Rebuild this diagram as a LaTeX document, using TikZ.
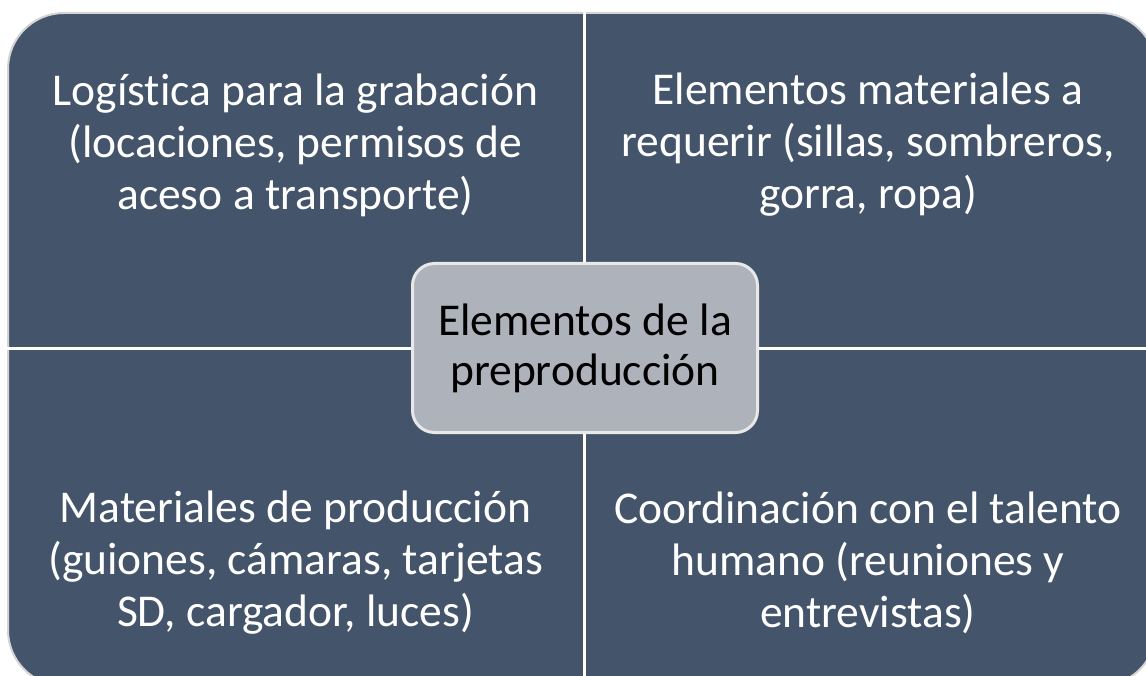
\documentclass[tikz,border=0pt]{standalone}
\usepackage{fontspec}
\setmainfont{Carlito}[Ligatures=NoCommon]
\definecolor{quad}{HTML}{44546A}
\definecolor{hub}{HTML}{AEB2BA}
\definecolor{rim}{HTML}{D4D4D4}
\definecolor{hubrim}{HTML}{E8E8E8}
\tikzset{
  quadtext/.style={text=white, align=center, inner sep=0pt, font=\fontsize{45.5}{52}\selectfont},
  hubbox/.style={draw=hubrim, line width=3pt, fill=hub, rounded corners=22pt, minimum width=345pt, minimum height=169pt, align=center, inner sep=0pt, font=\fontsize{45.5}{50}\selectfont, text=black}
}
\begin{document}
\begin{tikzpicture}[x=1pt,y=-1pt]
\useasboundingbox (0,0) rectangle (1146,676);
\fill[white] (0,0) rectangle (1146,676);
\begin{scope}
\clip (0,0) rectangle (1146,676);
\fill[quad, draw=rim, line width=2pt, rounded corners=56pt] (8,13) rectangle (1156,686);
\draw[white, line width=3pt] (584.5,12) -- (584.5,690);
\draw[white, line width=3pt] (6,348.5) -- (1160,348.5);
\end{scope}
\node[quadtext] (tl) at (295.5,145) {Logística para la grabación\\(locaciones, permisos de\\aceso a transporte)};
\node[quadtext] (tr) at (868,145) {Elementos materiales a\\requerir (sillas, sombreros,\\gorra, ropa)};
\node[quadtext] (bl) at (295.5,563) {Materiales de producción\\(guiones, cámaras, tarjetas\\SD, cargador, luces)};
\node[quadtext] (br) at (868,563) {Coordinación con el talento\\humano (reuniones y\\entrevistas)};
\node[hubbox] (hub) at (585,348) {Elementos de la\\preproducción};
\end{tikzpicture}
\end{document}
